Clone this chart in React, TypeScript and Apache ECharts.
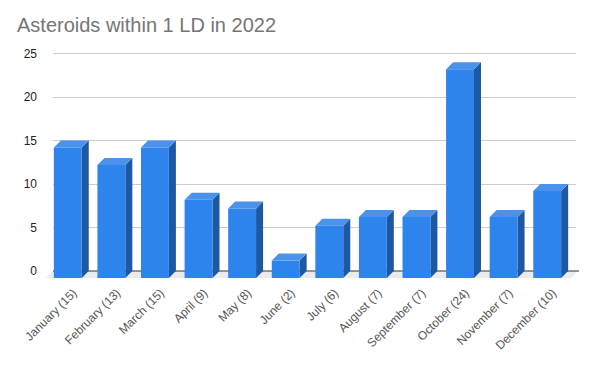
import React, { useEffect, useRef } from "react";
import * as echarts from "echarts";

const TITLE = "Asteroids within 1 LD in 2022";
const categories = [
  "January (15)",
  "February (13)",
  "March (15)",
  "April (9)",
  "May (8)",
  "June (2)",
  "July (6)",
  "August (7)",
  "September (7)",
  "October (24)",
  "November (7)",
  "December (10)",
];
const values = [15, 13, 15, 9, 8, 2, 6, 7, 7, 24, 7, 10];
const yTicks = { min: 0, max: 25, interval: 5 };

const FONT = "'Liberation Sans', Arial, sans-serif";
const DEPTH = 7;

export default function App() {
  const ref = useRef<HTMLDivElement>(null);
  useEffect(() => {
    if (!ref.current) return;
    const chart = echarts.init(ref.current, undefined, { renderer: "svg" });
    chart.setOption({
      animation: false,
      backgroundColor: "#ffffff",
      title: {
        text: TITLE,
        left: 12,
        top: 10,
        textStyle: {
          fontFamily: FONT,
          fontSize: 20,
          fontWeight: "normal",
          color: "#757575",
        },
      },
      grid: { left: 53, right: 19, top: 53.5, bottom: 95, containLabel: false },
      xAxis: {
        type: "category",
        data: categories,
        axisLine: { show: false },
        axisTick: { show: false },
        axisLabel: {
          rotate: 45,
          interval: 0,
          margin: 20,
          fontFamily: FONT,
          fontSize: 12,
          color: "#555555",
        },
      },
      yAxis: {
        type: "value",
        min: yTicks.min,
        max: yTicks.max,
        interval: yTicks.interval,
        axisLine: { show: false },
        axisTick: { show: false },
        axisLabel: {
          margin: 16,
          fontFamily: FONT,
          fontSize: 12,
          color: "#222222",
        },
        splitLine: { lineStyle: { color: "#cccccc", width: 1 } },
      },
      series: [
        {
          type: "custom",
          silent: true,
          z: 1,
          data: [[0, 0]],
          renderItem: (params: any, api: any) => {
            const cs = params.coordSys;
            const yb = cs.y + cs.height;
            const xl = cs.x;
            const xr = cs.x + cs.width + 2;
            return {
              type: "group",
              children: [
                {
                  type: "polygon",
                  shape: {
                    points: [
                      [xl, yb],
                      [xr, yb],
                      [xr - DEPTH, yb + DEPTH],
                      [xl - DEPTH, yb + DEPTH],
                    ],
                  },
                  style: { fill: "#ebebeb" },
                },
                {
                  type: "line",
                  shape: { x1: xl, y1: yb, x2: xr + 1, y2: yb },
                  style: { stroke: "#333333", lineWidth: 1 },
                },
              ],
            };
          },
        },
        {
          type: "custom",
          silent: true,
          z: 3,
          data: values.map((v, i) => [i, v]),
          renderItem: (params: any, api: any) => {
            const idx = api.value(0);
            const v = api.value(1);
            const top = api.coord([idx, v]);
            const base = api.coord([idx, 0]);
            const bw = api.size([1, 0])[0] * 0.64;
            const d = DEPTH;
            const x0 = top[0] - bw / 2 - d;
            const x1 = x0 + bw;
            const yT = top[1] + d;
            const yB = base[1] + d;
            return {
              type: "group",
              children: [
                {
                  type: "polygon",
                  shape: {
                    points: [
                      [x1, yT],
                      [x1 + d, yT - d],
                      [x1 + d, yB - d],
                      [x1, yB],
                    ],
                  },
                  style: { fill: "#1d58a4" },
                },
                {
                  type: "polygon",
                  shape: {
                    points: [
                      [x0, yT],
                      [x0 + d, yT - d],
                      [x1 + d, yT - d],
                      [x1, yT],
                    ],
                  },
                  style: { fill: "#4b92ec" },
                },
                {
                  type: "rect",
                  shape: { x: x0, y: yT, width: bw, height: yB - yT },
                  style: { fill: "#2d84ec" },
                },
              ],
            };
          },
        },
      ],
    });
    return () => chart.dispose();
  }, []);
  return <div ref={ref} style={{ width: 595, height: 366, margin: -8 }} />;
}
